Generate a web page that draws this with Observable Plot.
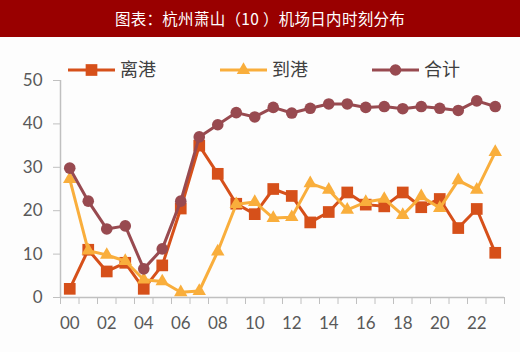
<!DOCTYPE html>
<html>
<head>
<meta charset="utf-8">
<script src="https://cdn.jsdelivr.net/npm/d3@7"></script>
<script src="https://cdn.jsdelivr.net/npm/@observablehq/plot@0.6"></script>
<style>
  html, body { margin: 0; padding: 0; background: #ffffff; }
  #wrap { position: relative; width: 520px; height: 352px; overflow: hidden; background: #fdfdfd; }
  #title { height: 37px; background: #990000; color: #ffffff; font-family: "Noto Sans CJK SC", sans-serif; font-size: 15.5px; line-height: 37px; text-align: center; letter-spacing: 0.3px; }
  #legend { position: absolute; left: 0; top: 55px; }
</style>
</head>
<body>
<div id="wrap">
  <div id="title">图表：杭州萧山（10 ）机场日内时刻分布</div>
  <svg id="legend" width="520" height="30"></svg>
  <div id="chart"></div>
</div>
<script>
// Hours of the day (categories)
const hours = [0,1,2,3,4,5,6,7,8,9,10,11,12,13,14,15,16,17,18,19,20,21,22,23];
// 离港 (departures)
const departures = [2,11,6,8,2,7.4,20.5,35,28.5,21.6,19.2,25,23.4,17.3,19.7,24.2,21.4,21,24.2,20.8,22.7,16,20.4,10.3];
// 到港 (arrivals)
const arrivals = [27.3,10.8,9.8,8.4,4.1,3.7,1.2,1.5,10.6,21.5,22,18.3,18.5,26.3,24.8,20.2,22,22.7,19,23.3,20.6,27,24.8,33.5];
// 合计 (total)
const totals = [29.8,22.2,15.8,16.5,6.6,11.2,22.2,37,39.8,42.6,41.6,43.8,42.5,43.6,44.6,44.6,43.8,44,43.5,44,43.6,43.1,45.3,44];
// Tick labels
const xTickLabels = ["00","02","04","06","08","10","12","14","16","18","20","22"];
const xTickHours = [0,2,4,6,8,10,12,14,16,18,20,22];
const yTicks = [0,10,20,30,40,50];
const seriesNames = ["离港","到港","合计"];
const seriesColors = ["#d6501a","#f9ae3c","#984a50"];

const rows = (vals) => hours.map((h, i) => ({hour: h, value: vals[i]}));
const dep = rows(departures), arr = rows(arrivals), tot = rows(totals);
const boundaries = hours.map(h => h - 0.5).concat([hours[hours.length - 1] + 0.5]);

const chart = Plot.plot({
  width: 520,
  height: 315,
  marginLeft: 60,
  marginRight: 16,
  marginTop: 43,
  marginBottom: 55,
  x: {domain: [boundaries[0], boundaries[boundaries.length - 1]]},
  y: {domain: [0, 50]},
  style: {fontFamily: "Lato, 'Open Sans', sans-serif", fontSize: "16px", background: "transparent", overflow: "visible"},
  marks: [
    Plot.ruleY([0], {stroke: "#c0c0c0", strokeWidth: 1.5}),
    Plot.ruleX([boundaries[0]], {stroke: "#c0c0c0", strokeWidth: 1.5}),
    Plot.axisY({ticks: yTicks, tickSize: 7, tickPadding: 11, stroke: "#c0c0c0", fill: "#595959", label: null, fontSize: 17}),
    Plot.axisX({ticks: boundaries, tickSize: 7, tickFormat: () => "", stroke: "#c0c0c0", label: null}),
    Plot.axisX({ticks: xTickHours, tickSize: 0, tickPadding: 19, tickFormat: (d) => xTickLabels[xTickHours.indexOf(d)], fill: "#595959", label: null, fontSize: 17}),
    Plot.lineY(dep, {x: "hour", y: "value", stroke: seriesColors[0], strokeWidth: 3}),
    Plot.dot(dep, {x: "hour", y: "value", symbol: "square", r: 6.6, fill: seriesColors[0]}),
    Plot.lineY(arr, {x: "hour", y: "value", stroke: seriesColors[1], strokeWidth: 3}),
    Plot.dot(arr, {x: "hour", y: "value", symbol: "triangle", r: 5, fill: seriesColors[1]}),
    Plot.lineY(tot, {x: "hour", y: "value", stroke: seriesColors[2], strokeWidth: 3}),
    Plot.dot(tot, {x: "hour", y: "value", symbol: "circle", r: 5.8, fill: seriesColors[2]})
  ]
});
document.getElementById("chart").appendChild(chart);

// Legend
const lg = d3.select("#legend");
const legendX = [68, 220, 372];
const cy = 15;
seriesNames.forEach((name, i) => {
  const x0 = legendX[i], c = seriesColors[i];
  lg.append("line").attr("x1", x0).attr("x2", x0 + 47).attr("y1", cy).attr("y2", cy)
    .attr("stroke", c).attr("stroke-width", 3);
  const sym = i === 0 ? d3.symbolSquare : i === 1 ? d3.symbolTriangle : d3.symbolCircle;
  const r = i === 0 ? 6.6 : i === 1 ? 5 : 5.8;
  lg.append("path").attr("d", d3.symbol(sym, r * r * Math.PI)())
    .attr("transform", `translate(${x0 + 23.5},${cy})`).attr("fill", c);
  lg.append("text").attr("x", x0 + 52).attr("y", cy).attr("dy", "0.36em")
    .attr("font-family", "'Noto Sans CJK SC', sans-serif").attr("font-size", 18)
    .attr("fill", "#404040").text(name);
});
</script>
</body>
</html>
